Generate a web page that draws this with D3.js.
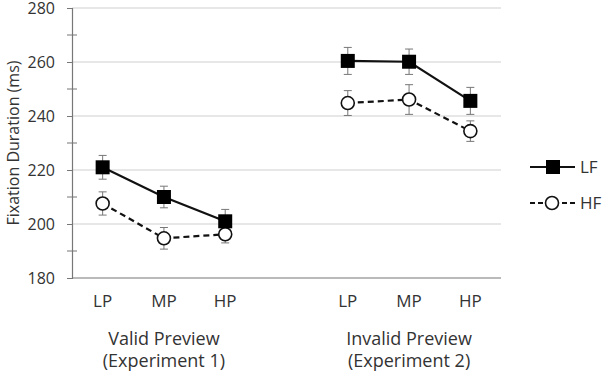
<!DOCTYPE html>
<html>
<head>
<meta charset="utf-8">
<script src="https://cdn.jsdelivr.net/npm/d3@7"></script>
<style>
  body { margin: 0; background: #fff; }
  svg { display: block; }
  text { font-family: "Open Sans", sans-serif; fill: #333; }
</style>
</head>
<body>
<svg width="607" height="377"></svg>
<script>
// slots: 7 bands, the middle one left empty between the two experiments
const slots = ['LP1', 'MP1', 'HP1', 'gap', 'LP2', 'MP2', 'HP2'];
const slotLabels = ['LP', 'MP', 'HP', '', 'LP', 'MP', 'HP'];
const groupLabels = [
  { slots: ['LP1', 'MP1', 'HP1'], lines: ['Valid Preview', '(Experiment 1)'] },
  { slots: ['LP2', 'MP2', 'HP2'], lines: ['Invalid Preview', '(Experiment 2)'] }
];

const lfExp1 = [221, 210, 201];
const lfExp2 = [260.4, 260.1, 245.6];
const hfExp1 = [207.6, 194.7, 196.2];
const hfExp2 = [244.8, 246.1, 234.4];
const lfErr1 = [4.4, 4.0, 4.4];
const lfErr2 = [5.0, 4.7, 5.0];
const hfErr1 = [4.3, 4.0, 3.2];
const hfErr2 = [4.6, 5.5, 3.8];

const yTicks = [180, 200, 220, 240, 260, 280];

var svg = d3.select('svg');

var x = d3.scaleBand().domain(slots).range([72, 501]);
var y = d3.scaleLinear().domain([180, 280]).range([278, 8]);

// gridlines
svg.append('g')
  .selectAll('line')
  .data(yTicks.slice(1))
  .enter()
  .append('line')
  .attr('x1', 72).attr('x2', 501)
  .attr('y1', d => y(d)).attr('y2', d => y(d))
  .attr('stroke', '#cfcfcf')
  .attr('stroke-width', 1);

// y axis with minor ticks
var yAxis = svg.append('g')
  .attr('transform', 'translate(72,0)')
  .call(d3.axisLeft(y).tickValues(yTicks).tickSize(5).tickPadding(12).tickFormat(d3.format('d')));
yAxis.select('.domain').attr('stroke', '#777').attr('stroke-width', 1.2);
yAxis.selectAll('.tick line').attr('stroke', '#777');
yAxis.selectAll('.tick text').attr('font-size', 16).attr('fill', '#444').style('font-family', '"Open Sans", sans-serif');

svg.append('g')
  .selectAll('line')
  .data(d3.range(190, 280, 20))
  .enter()
  .append('line')
  .attr('x1', 67).attr('x2', 77)
  .attr('y1', d => y(d)).attr('y2', d => y(d))
  .attr('stroke', '#777');

// x baseline
svg.append('line')
  .attr('x1', 72).attr('x2', 501)
  .attr('y1', y(180)).attr('y2', y(180))
  .attr('stroke', '#777').attr('stroke-width', 1.2);

// x labels
svg.append('g')
  .selectAll('text')
  .data(slots.filter(s => s !== 'gap'))
  .enter()
  .append('text')
  .attr('x', d => x(d) + x.bandwidth() / 2)
  .attr('y', 307)
  .attr('text-anchor', 'middle')
  .attr('font-size', 17)
  .text(d => slotLabels[slots.indexOf(d)]);

groupLabels.forEach(g => {
  var cx = x(g.slots[1]) + x.bandwidth() / 2;
  g.lines.forEach((t, i) => {
    svg.append('text')
      .attr('x', cx)
      .attr('y', 345 + i * 22)
      .attr('text-anchor', 'middle')
      .attr('font-size', 18)
      .text(t);
  });
});

// y title
svg.append('text')
  .attr('transform', 'translate(19,' + ((y(180) + y(280)) / 2) + ') rotate(-90)')
  .attr('text-anchor', 'middle')
  .attr('font-size', 16)
  .text('Fixation Duration (ms)');

function series(vals, errs, names) {
  return vals.map((v, i) => ({ slot: names[i], v: v, e: errs[i] }));
}
var lf1 = series(lfExp1, lfErr1, ['LP1', 'MP1', 'HP1']);
var lf2 = series(lfExp2, lfErr2, ['LP2', 'MP2', 'HP2']);
var hf1 = series(hfExp1, hfErr1, ['LP1', 'MP1', 'HP1']);
var hf2 = series(hfExp2, hfErr2, ['LP2', 'MP2', 'HP2']);

var cxOf = d => x(d.slot) + x.bandwidth() / 2;
var line = d3.line().x(cxOf).y(d => y(d.v));

function drawErr(data) {
  var g = svg.append('g').attr('stroke', '#777').attr('stroke-width', 1);
  data.forEach(d => {
    var c = cxOf(d);
    g.append('line').attr('x1', c).attr('x2', c).attr('y1', y(d.v + d.e)).attr('y2', y(d.v - d.e));
    g.append('line').attr('x1', c - 4).attr('x2', c + 4).attr('y1', y(d.v + d.e)).attr('y2', y(d.v + d.e));
    g.append('line').attr('x1', c - 4).attr('x2', c + 4).attr('y1', y(d.v - d.e)).attr('y2', y(d.v - d.e));
  });
}
[lf1, lf2, hf1, hf2].forEach(drawErr);

[hf1, hf2].forEach(d => {
  svg.append('path').datum(d).attr('d', line)
    .attr('fill', 'none').attr('stroke', '#111').attr('stroke-width', 2.2).attr('stroke-dasharray', '6,4');
});
[lf1, lf2].forEach(d => {
  svg.append('path').datum(d).attr('d', line)
    .attr('fill', 'none').attr('stroke', '#111').attr('stroke-width', 2.2);
});

svg.append('g')
  .selectAll('circle')
  .data(hf1.concat(hf2))
  .enter()
  .append('circle')
  .attr('cx', cxOf).attr('cy', d => y(d.v)).attr('r', 6.5)
  .attr('fill', '#fff').attr('stroke', '#111').attr('stroke-width', 1.6);

svg.append('g')
  .selectAll('rect')
  .data(lf1.concat(lf2))
  .enter()
  .append('rect')
  .attr('x', d => cxOf(d) - 7).attr('y', d => y(d.v) - 7)
  .attr('width', 14).attr('height', 14)
  .attr('fill', '#000');

// legend
var leg = svg.append('g');
leg.append('line').attr('x1', 530).attr('x2', 575).attr('y1', 167).attr('y2', 167)
  .attr('stroke', '#111').attr('stroke-width', 2.2);
leg.append('rect').attr('x', 546).attr('y', 160).attr('width', 14).attr('height', 14).attr('fill', '#000');
leg.append('text').attr('x', 580).attr('y', 173).attr('font-size', 17).text('LF');
leg.append('line').attr('x1', 530).attr('x2', 575).attr('y1', 203).attr('y2', 203)
  .attr('stroke', '#111').attr('stroke-width', 2.2).attr('stroke-dasharray', '5,3');
leg.append('circle').attr('cx', 552).attr('cy', 203).attr('r', 6.5)
  .attr('fill', '#fff').attr('stroke', '#111').attr('stroke-width', 1.6);
leg.append('text').attr('x', 580).attr('y', 209).attr('font-size', 17).text('HF');
</script>
</body>
</html>
